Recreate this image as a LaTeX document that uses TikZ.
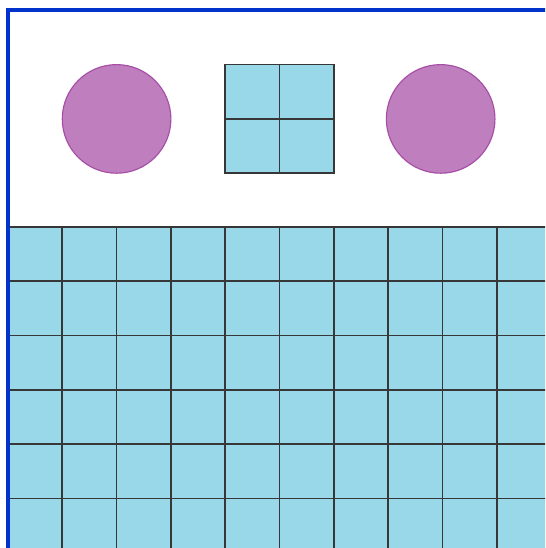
\documentclass[tikz,border=0pt]{standalone}
\usepackage{xcolor}
\usepackage{tikz}
\usetikzlibrary{positioning}

\definecolor{tilefill}{RGB}{153,216,233}
\definecolor{discfill}{RGB}{191,127,191}
\definecolor{discline}{RGB}{166,77,166}
\definecolor{edgeblue}{RGB}{0,51,204}
\definecolor{tileline}{RGB}{55,55,55}

\begin{document}
\begin{tikzpicture}[
  disc/.style={circle, draw=discline, line width=0.6pt, fill=discfill, minimum size=2cm, inner sep=0pt},
  tile/.style={draw=tileline, line width=0.9pt, fill=tilefill, minimum size=1cm, inner sep=0pt, outer sep=0pt},
  frame/.style={draw=edgeblue, line width=2pt}
]
\useasboundingbox (0,0) rectangle (10.037,-10.092);
\clip (0,0) rectangle (10.037,-10.092);

% base grid of tiles
\fill[tilefill] (0.147,-4.18) rectangle (10.5,-10.5);
\draw[tileline, line width=0.9pt, shift={(0.147,-4.18)}, step=1] (0,0) grid (10.5,-6.5);

% top row: disc, block of four tiles, disc
\node[disc] (d1) at (2.147,-2.19) {};
\node[tile, anchor=north west] (t1) at (4.147,-1.19) {};
\node[tile, right=0pt of t1] (t2) {};
\node[tile, below=0pt of t1] (t3) {};
\node[tile, right=0pt of t3] (t4) {};
\node[disc] (d2) at (8.115,-2.19) {};

% blue edge
\draw[frame] (0.147,-10.5) -- (0.147,-0.19) -- (10.5,-0.19);
\end{tikzpicture}
\end{document}
